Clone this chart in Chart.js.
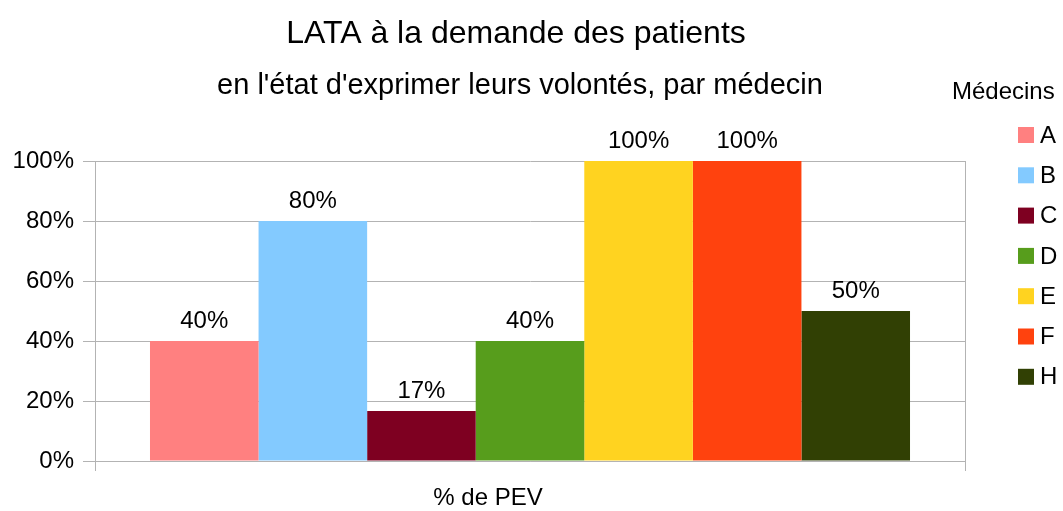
<!DOCTYPE html>
<html>
<head>
<meta charset="utf-8">
<script src="https://cdn.jsdelivr.net/npm/chart.js@4/dist/chart.umd.min.js"></script>
<style>
  html, body { margin: 0; padding: 0; background: #fff; }
  #wrap { width: 1063px; height: 511px; position: relative; }
</style>
</head>
<body>
<div id="wrap"><canvas id="lataChart"></canvas></div>
<script>
// valeurs
const categories = ['% de PEV'];
const medecins = ['A', 'B', 'C', 'D', 'E', 'F', 'H'];
const valeurs = [40, 80, 16.67, 40, 100, 100, 50];
const couleurs = ['#ff8080', '#83caff', '#7e0021', '#579d1c', '#ffd320', '#ff420e', '#314004'];
const yTicks = [0, 20, 40, 60, 80, 100];

const titre = 'LATA à la demande des patients';
const sousTitre = "en l'état d'exprimer leurs volontés, par médecin";
const legendeTitre = 'Médecins';

const FONT = '"Liberation Sans", Arial, sans-serif';

// titres + légende dessinés à la main (positions LibreOffice)
const decorPlugin = {
    id: 'decor',
    afterDraw(chart) {
        const ctx = chart.ctx;
        ctx.save();
        ctx.fillStyle = '#000';
        ctx.textAlign = 'center';
        ctx.textBaseline = 'middle';
        ctx.font = '32px ' + FONT;
        ctx.fillText(titre, 516, 34);
        ctx.font = '29px ' + FONT;
        ctx.fillText(sousTitre, 520, 86);

        // légende
        ctx.font = '24px ' + FONT;
        ctx.textAlign = 'left';
        ctx.fillText(legendeTitre, 952, 92);
        chart.data.datasets.forEach((ds, i) => {
            const y = 135 + i * 40.3;
            ctx.fillStyle = ds.backgroundColor;
            ctx.fillRect(1018, y - 8, 16, 16);
            ctx.fillStyle = '#000';
            ctx.fillText(ds.label, 1040, y + 1);
        });

        // étiquettes de valeur au-dessus des barres
        ctx.textAlign = 'center';
        ctx.font = '24px ' + FONT;
        chart.data.datasets.forEach((ds, i) => {
            chart.getDatasetMeta(i).data.forEach((bar, j) => {
                ctx.fillText(Math.round(ds.data[j]) + '%', bar.x, bar.y - 20);
            });
        });
        ctx.restore();
    }
};

const datasets = medecins.map((m, i) => ({
    label: m,
    data: [valeurs[i]],
    backgroundColor: couleurs[i],
    borderWidth: 0,
    categoryPercentage: 0.8736,
    barPercentage: 1
}));

new Chart(document.getElementById('lataChart'), {
    type: 'bar',
    data: { labels: categories, datasets: datasets },
    options: {
        responsive: true,
        maintainAspectRatio: false,
        animation: false,
        layout: { padding: { top: 161, right: 98, left: 0, bottom: 0 } },
        plugins: {
            legend: { display: false },
            title: { display: false },
            tooltip: { enabled: false }
        },
        scales: {
            x: {
                grid: { offset: true, color: '#b3b3b3', tickLength: 10, lineWidth: 1 },
                border: { color: '#b3b3b3' },
                ticks: { color: '#000', font: { family: FONT, size: 24 }, padding: 13, labelOffset: -42 },
                afterFit(scale) { scale.height = 50; }
            },
            y: {
                min: 0,
                max: 100,
                afterBuildTicks(scale) { scale.ticks = yTicks.map(v => ({ value: v })); },
                grid: { color: '#b3b3b3', tickLength: 12 },
                border: { color: '#b3b3b3' },
                ticks: {
                    color: '#000',
                    font: { family: FONT, size: 24 },
                    padding: 9,
                    callback: v => v + '%'
                },
                afterFit(scale) { scale.width = 95; }
            }
        }
    },
    plugins: [decorPlugin]
});
</script>
</body>
</html>
